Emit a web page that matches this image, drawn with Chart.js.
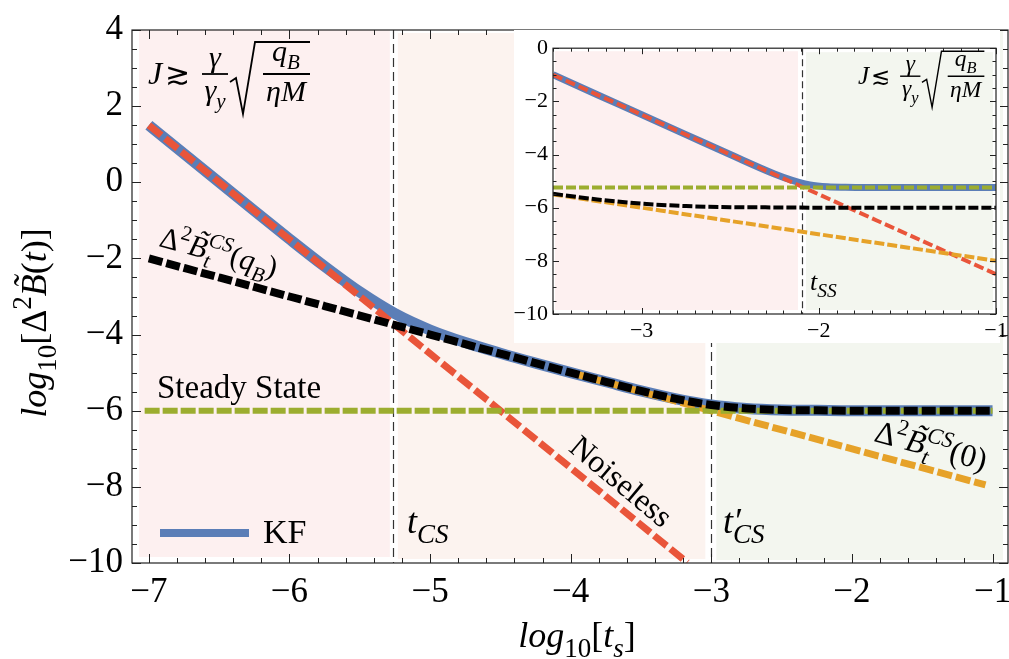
<!DOCTYPE html>
<html>
<head>
<meta charset="utf-8">
<script src="https://cdn.jsdelivr.net/npm/chart.js@4.4.0/dist/chart.umd.min.js"></script>
<style>
  html, body { margin: 0; padding: 0; background: #fff; overflow: hidden; }
  #wrap { position: relative; width: 1009px; height: 659px; overflow: hidden; }
  #main { position: absolute; left: 0; top: 0; }
  #inset { position: absolute; left: 514px; top: 30px; }
</style>
</head>
<body>
<div id="wrap">
  <canvas id="main" width="1040" height="659"></canvas>
  <canvas id="inset" width="520" height="313"></canvas>
</div>
<script>
// ---- main panel data (log10 t_s vs log10 variance) ----
const mainXTicks = [-7, -6, -5, -4, -3, -2, -1];
const mainYTicks = [-10, -8, -6, -4, -2, 0, 2, 4];
const mainMarkers = [-5.265, -3.0];            // t_CS, t'_CS

const mainX  = [-7, -6.75, -6.5, -6.25, -6, -5.75, -5.5, -5.25, -5, -4.75, -4.5, -4.25, -4, -3.75, -3.5, -3.25, -3, -2.75, -2.5, -2.25, -2, -1.5, -1];
const kfMain = [1.5, 0.75, 0.0, -0.75, -1.49, -2.21, -2.88, -3.45, -3.88, -4.21, -4.49, -4.75, -5.0, -5.24, -5.48, -5.69, -5.85, -5.94, -5.98, -5.99, -6.0, -6.0, -6.0];
const csQbMain = [-2.0, -2.25, -2.5, -2.75, -3.0, -3.25, -3.5, -3.75, -4.0, -4.25, -4.5, -4.75, -5.0, -5.24, -5.48, -5.69, -5.85, -5.94, -5.98, -5.99, -6.0, -6.0, -6.0];
const noiselessX = [-7, -3.17];
const noiselessY = [1.5, -9.99];
const cs0X = [-4.0, -1.05];
const cs0Y = [-5.0, -7.95];
const steadyX = [-7.03, -1.0];
const steadyY = [-6.0, -6.0];

// ---- inset data ----
const inXTicks = [-3, -2, -1];
const inYTicks = [-10, -8, -6, -4, -2, 0];
const inMarkers = [-2.095];                    // t_SS
const inKfX = [-3.5, -3.25, -3, -2.75, -2.5, -2.25, -2.15, -2.05, -1.95, -1.85, -1.75, -1.5, -1];
const inKfY = [-1.0, -1.75, -2.5, -3.25, -4.0, -4.73, -4.97, -5.14, -5.21, -5.23, -5.24, -5.24, -5.24];
const inCsX = [-3.5, -3.25, -3, -2.75, -2.5, -2.25, -2, -1.5, -1];
const inCsY = [-5.48, -5.69, -5.85, -5.94, -5.98, -5.99, -6.0, -6.0, -6.0];
const inNoiselessX = [-3.5, -1];
const inNoiselessY = [-1.0, -8.5];
const inCs0X = [-3.5, -1];
const inCs0Y = [-5.5, -8.0];
const inSteadyX = [-3.5, -1];
const inSteadyY = [-5.24, -5.24];

const SERIF = '"Liberation Serif", "Times New Roman", serif';
const BLUE = '#5b7eb7', RED = '#e9553a', ORANGE = '#e6a229', GREEN = '#9cad2f';

const xy = (xs, ys) => xs.map((x, i) => ({ x, y: ys[i] }));
const minus = v => (v < 0 ? '\u2212' + Math.abs(v) : String(v));

// rich text: parts = [text, flags]; i italic, b sub, p sup, o overlay on previous, t tilde
function rich(ctx, parts, x, y, size, align, ratio = 0.7) {
  const items = [];
  let cx = 0, prevStart = 0, prevEnd = 0;
  for (const [t, f = ''] of parts) {
    const small = f.includes('b') || f.includes('p');
    const sz = small ? size * ratio : size;
    const font = (f.includes('i') ? 'italic ' : '') + sz + 'px ' + SERIF;
    ctx.font = font;
    const w = ctx.measureText(t).width;
    const start = f.includes('o') ? prevStart : cx;
    const dy = f.includes('b') ? size * 0.28 : f.includes('p') ? -size * 0.42 : 0;
    items.push({ t, font, x: start, dy, w, sz, tilde: f.includes('t') });
    const end = start + w;
    cx = f.includes('o') ? Math.max(prevEnd, end) : end;
    prevStart = start; prevEnd = end;
  }
  const off = align === 'center' ? -cx / 2 : align === 'right' ? -cx : 0;
  ctx.textAlign = 'left';
  ctx.textBaseline = 'alphabetic';
  for (const it of items) {
    ctx.font = it.font;
    ctx.fillText(it.t, x + off + it.x, y + it.dy);
    if (it.tilde) {
      const tw = ctx.measureText('\u02DC').width;
      ctx.fillText('\u02DC', x + off + it.x + it.w / 2 - tw / 2 + it.sz * 0.08, y + it.dy - it.sz * 0.2);
    }
  }
}

function line(ctx, x0, y0, x1, y1) {
  ctx.beginPath(); ctx.moveTo(x0, y0); ctx.lineTo(x1, y1); ctx.stroke();
}

function drawJ(ctx, x0, y0, k, rel) {
  ctx.save();
  ctx.translate(x0, y0); ctx.scale(k, k);
  ctx.fillStyle = '#000'; ctx.strokeStyle = '#000';
  rich(ctx, [['J', 'i']], 0, 0, 32, 'left');
  ctx.font = '30px "DejaVu Serif", ' + SERIF;
  ctx.textAlign = 'center'; ctx.textBaseline = 'middle';
  ctx.fillText(rel, 29, -8);
  ctx.lineWidth = 1.8;
  line(ctx, 54, -10, 80, -10);
  rich(ctx, [['\u03B3', 'i']], 67, -17, 30, 'center');
  rich(ctx, [['\u03B3', 'i'], ['y', 'ib']], 67, 16, 30, 'center');
  ctx.beginPath();
  ctx.moveTo(82, -2); ctx.lineTo(88, -6); ctx.lineTo(95, 30); ctx.lineTo(107, -42); ctx.lineTo(162, -42);
  ctx.lineWidth = 1.8; ctx.stroke();
  line(ctx, 115, -10, 162, -10);
  rich(ctx, [['q', 'i'], ['B', 'ib']], 138, -23, 30, 'center');
  rich(ctx, [['\u03B7M', 'i']], 138, 17, 30, 'center');
  ctx.restore();
}

function frameTicks(ctx, a, x, y, o) {
  ctx.save();
  ctx.strokeStyle = '#222'; ctx.lineWidth = 1.2;
  ctx.strokeRect(a.left, a.top, a.right - a.left, a.bottom - a.top);
  ctx.lineWidth = 1;
  const isMajor = (v, m) => Math.abs(v / m - Math.round(v / m)) < 1e-6;
  for (let k = Math.ceil(x.min / o.xMinor - 1e-6); k * o.xMinor <= x.max + 1e-9; k++) {
    const v = k * o.xMinor, p = Math.round(x.getPixelForValue(v)) + 0.5;
    const L = isMajor(v, o.xMajor) ? o.major : o.minor;
    line(ctx, p, a.bottom, p, a.bottom - L);
    line(ctx, p, a.top, p, a.top + L);
  }
  for (let k = Math.ceil(y.min / o.yMinor - 1e-6); k * o.yMinor <= y.max + 1e-9; k++) {
    const v = k * o.yMinor, p = Math.round(y.getPixelForValue(v)) + 0.5;
    const L = isMajor(v, o.yMajor) ? o.major : o.minor;
    line(ctx, a.left, p, a.left + L, p);
    line(ctx, a.right, p, a.right - L, p);
  }
  ctx.restore();
}

function deco(o) {
  return {
    id: 'deco' + o.name,
    beforeDraw(chart) {
      if (!o.bg) return;
      const ctx = chart.ctx;
      ctx.save(); ctx.fillStyle = '#fff'; ctx.fillRect(0, 0, o.bg[0], o.bg[1]); ctx.restore();
    },
    beforeDatasetsDraw(chart) {
      const { ctx, chartArea: a, scales: { x, y } } = chart;
      ctx.save();
      for (const r of o.regions) {
        const x0 = x.getPixelForValue(r.from) + r.g[0];
        const x1 = x.getPixelForValue(r.to) + r.g[1];
        ctx.fillStyle = r.c;
        ctx.fillRect(x0, a.top + r.tb[0], x1 - x0, a.bottom - a.top - r.tb[0] - r.tb[1]);
      }
      ctx.strokeStyle = '#333'; ctx.lineWidth = 1.2; ctx.setLineDash(o.dash);
      for (const m of o.markers) {
        const p = Math.round(x.getPixelForValue(m)) + 0.5;
        line(ctx, p, a.top, p, a.bottom);
      }
      ctx.restore();
    },
    afterDatasetsDraw(chart) {
      const { ctx, chartArea: a, scales: { x, y } } = chart;
      frameTicks(ctx, a, x, y, o.ticks);
      ctx.save();
      ctx.fillStyle = '#000';
      o.text(ctx, chart);
      ctx.restore();
    }
  };
}

function axisOpts(min, max, tickVals, size, pad, fit) {
  return {
    type: 'linear', min, max,
    grid: { display: false, drawTicks: false },
    border: { display: false },
    afterBuildTicks(s) { s.ticks = tickVals.map(v => ({ value: v })); },
    afterFit: fit,
    ticks: { font: { family: SERIF, size }, color: '#000', padding: pad, callback: v => minus(v), maxRotation: 0, autoSkip: false }
  };
}

function ds(label, pts, color, width, dash) {
  return { label, data: pts, borderColor: color, borderWidth: width, borderDash: dash || [], borderCapStyle: 'butt',
           pointRadius: 0, fill: false, cubicInterpolationMode: 'monotone' };
}

const mainDeco = deco({
  name: 'main',
  markers: mainMarkers,
  dash: [9, 5],
  regions: [
    { from: -7.12, to: mainMarkers[0], c: '#fdf0f0', g: [7, -3], tb: [0, 6] },
    { from: mainMarkers[0], to: mainMarkers[1], c: '#fcf3ef', g: [5, -6], tb: [3, 4] },
    { from: mainMarkers[1], to: -0.89, c: '#f3f6ef', g: [5, -5], tb: [1, 3] }
  ],
  ticks: { xMinor: 0.2, xMajor: 1, yMinor: 0.5, yMajor: 2, major: 9, minor: 5 },
  text(ctx) {
    // axis titles
    ctx.save(); ctx.translate(46, 323); ctx.rotate(-Math.PI / 2);
    rich(ctx, [['log', 'i'], ['10', 'b'], ['[\u0394', ''], ['2', 'p'], ['B', 'it'], ['(', ''], ['t', 'i'], [')]', '']], 0, 0, 36, 'center', 0.75);
    ctx.restore();
    rich(ctx, [['log', 'i'], ['10', 'b'], ['[', ''], ['t', 'i'], ['s', 'ib'], [']', '']], 577, 647, 36, 'center', 0.75);

    drawJ(ctx, 148, 84, 1, '\u2273');

    ctx.save(); ctx.translate(158, 246); ctx.rotate(15 * Math.PI / 180);
    rich(ctx, [['\u0394', ''], ['2', 'p'], ['B', 'it'], ['t', 'ib'], ['CS', 'ipo'], ['(', ''], ['q', 'i'], ['B', 'ib'], [')', '']], 0, 0, 30, 'left');
    ctx.restore();

    ctx.save(); ctx.translate(873, 441); ctx.rotate(15 * Math.PI / 180);
    rich(ctx, [['\u0394', ''], ['2', 'p'], ['B', 'it'], ['t', 'ib'], ['CS', 'ipo'], ['(0)', '']], 0, 0, 32, 'left');
    ctx.restore();

    ctx.save(); ctx.translate(620, 483); ctx.rotate(40 * Math.PI / 180);
    ctx.font = '32px ' + SERIF; ctx.textAlign = 'center'; ctx.textBaseline = 'middle';
    ctx.fillText('Noiseless', 0, 0);
    ctx.restore();

    ctx.font = '33px ' + SERIF; ctx.textAlign = 'left'; ctx.textBaseline = 'alphabetic';
    ctx.fillText('Steady State', 157, 398);

    rich(ctx, [['t', 'i'], ['CS', 'ib']], 407, 533, 36, 'left', 0.75);
    rich(ctx, [['t', 'i'], ['\u2032', 'i'], ['CS', 'ibo']], 723, 533, 36, 'left', 0.75);

    // legend
    ctx.strokeStyle = BLUE; ctx.lineWidth = 8;
    line(ctx, 160, 533, 249, 533);
    ctx.font = '34px ' + SERIF; ctx.textAlign = 'left'; ctx.textBaseline = 'alphabetic';
    ctx.fillText('KF', 263, 543);
  }
});

new Chart(document.getElementById('main'), {
  type: 'line',
  data: {
    datasets: [
      ds('CS(qB)', xy(mainX, csQbMain), '#000', 8, [14, 4]),
      ds('Steady State', xy(steadyX, steadyY), GREEN, 6, [15, 3]),
      ds('CS(0)', xy(cs0X, cs0Y), ORANGE, 7, [15, 4]),
      ds('Noiseless', xy(noiselessX, noiselessY), RED, 7, [16, 5]),
      ds('KF', xy(mainX, kfMain), BLUE, 11)
    ]
  },
  options: {
    responsive: false, animation: false, devicePixelRatio: 1,
    layout: { padding: { top: 22, right: 32, left: 0, bottom: 0 } },
    plugins: { legend: { display: false }, tooltip: { enabled: false } },
    scales: {
      x: axisOpts(-7.12, -0.89, mainXTicks, 35, 9, s => { s.height = 96; }),
      y: axisOpts(-10, 4, mainYTicks, 35, 9, s => { s.width = 132; })
    }
  },
  plugins: [mainDeco]
});

const insetDeco = deco({
  name: 'inset',
  bg: [486, 313],
  markers: inMarkers,
  dash: [7, 4],
  regions: [
    { from: -3.5, to: inMarkers[0], c: '#fdf0f0', g: [2, -4], tb: [3, 4] },
    { from: inMarkers[0], to: -1, c: '#f3f6ef', g: [4, -3], tb: [4, 4] }
  ],
  ticks: { xMinor: 0.1, xMajor: 1, yMinor: 0.5, yMajor: 2, major: 6, minor: 3.5 },
  text(ctx) {
    drawJ(ctx, 344, 54, 0.78, '\u2272');
    rich(ctx, [['t', 'i'], ['SS', 'ib']], 296, 260, 26, 'left', 0.75);
  }
});

new Chart(document.getElementById('inset'), {
  type: 'line',
  data: {
    datasets: [
      ds('CS(qB)', xy(inCsX, inCsY), '#000', 4, [10, 3]),
      ds('Steady State', xy(inSteadyX, inSteadyY), GREEN, 4, [10, 3]),
      ds('CS(0)', xy(inCs0X, inCs0Y), ORANGE, 4, [10, 3]),
      ds('Noiseless', xy(inNoiselessX, inNoiselessY), RED, 4, [10, 4]),
      ds('KF', xy(inKfX, inKfY), BLUE, 7)
    ]
  },
  options: {
    responsive: false, animation: false, devicePixelRatio: 1,
    layout: { padding: { top: 11, right: 38, left: 0, bottom: 0 } },
    plugins: { legend: { display: false }, tooltip: { enabled: false } },
    scales: {
      x: axisOpts(-3.5, -1, inXTicks, 22, 4, s => { s.height = 29; }),
      y: axisOpts(-10, 0, inYTicks, 22, 5, s => { s.width = 39; })
    }
  },
  plugins: [insetDeco]
});
</script>
</body>
</html>
